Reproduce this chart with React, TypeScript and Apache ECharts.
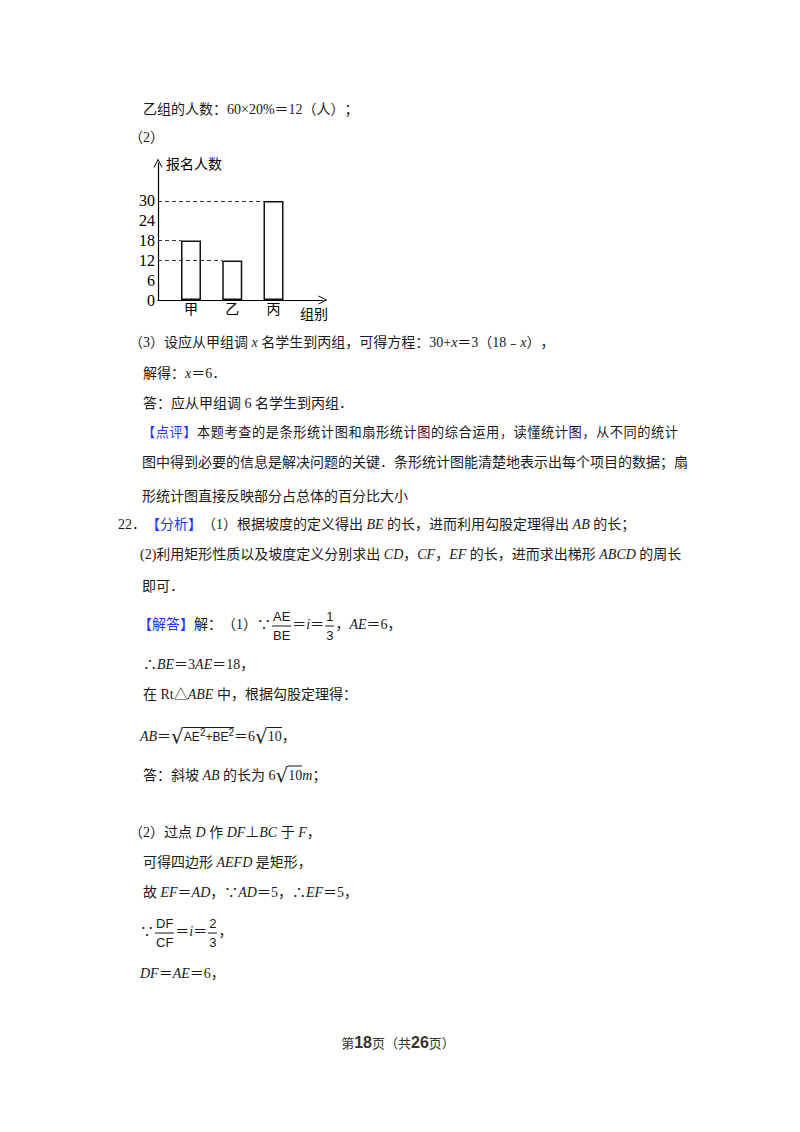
import React, { useEffect, useRef } from 'react';
import * as echarts from 'echarts';

// chart data
const groups = ['甲', '乙', '丙'];
const counts = [18, 12, 30];
const groupPositions = [1, 2, 3];
const yTicks = [0, 6, 12, 18, 24, 30];

const TEXT_FONT = '"Liberation Serif", "Noto Sans CJK SC", serif';
const BLUE = '#2233ff';
const INK = '#1a1a1a';

// thin open arrow head, tip at the top (ECharts rotates it along the axis)
const arrowHead = 'path://M5,0 L10,10 L8.9,10 L5,2.3 L1.1,10 L0,10 Z';

const EnrollmentChart: React.FC = () => {
  const chartRef = useRef<HTMLDivElement>(null);

  useEffect(() => {
    if (!chartRef.current) return;
    const chart = echarts.init(chartRef.current, undefined, { renderer: 'svg' });

    const xMin = 0.2;
    const halfBar = 0.24;

    const option: echarts.EChartsOption = {
      animation: false,
      grid: { left: 58, top: 23, width: 165, height: 137, outerBoundsMode: 'none' } as any,
      xAxis: {
        type: 'value',
        min: xMin,
        max: 4.2,
        axisLine: {
          show: true,
          symbol: ['none', arrowHead],
          symbolSize: [9, 9],
          lineStyle: { color: '#000', width: 1.2 },
        },
        axisTick: { show: false },
        splitLine: { show: false },
        axisLabel: {
          customValues: groupPositions,
          formatter: (v: number) => groups[groupPositions.indexOf(v)] ?? '',
          color: '#000',
          fontFamily: '"Noto Sans CJK SC"',
          fontSize: 14,
          margin: 1,
        } as any,
        name: '组别',
        nameLocation: 'end',
        nameGap: -23,
        nameTextStyle: {
          color: '#000',
          fontFamily: '"Noto Sans CJK SC"',
          fontSize: 14,
          verticalAlign: 'top',
          padding: [6, 0, 0, 0],
        },
      },
      yAxis: {
        type: 'value',
        min: 0,
        max: 41.5,
        interval: 6,
        axisLine: {
          show: true,
          symbol: ['none', arrowHead],
          symbolSize: [9, 9],
          lineStyle: { color: '#000', width: 1.2 },
        },
        axisTick: { show: false },
        splitLine: { show: false },
        axisLabel: {
          customValues: yTicks,
          formatter: (v: number) => (yTicks.includes(v) ? String(v) : ''),
          color: '#000',
          fontFamily: '"Liberation Serif"',
          fontSize: 16,
          margin: 3,
        } as any,
        name: '报名人数',
        nameLocation: 'end',
        nameGap: 0,
        nameTextStyle: {
          color: '#000',
          fontFamily: '"Noto Sans CJK SC"',
          fontSize: 14,
          align: 'left',
          verticalAlign: 'middle',
          padding: [0, 0, 0, 8],
        },
      },
      series: [
        {
          type: 'bar',
          barWidth: 20,
          data: groupPositions.map((p, i) => [p, counts[i]]),
          itemStyle: { color: '#fff', borderColor: '#111', borderWidth: 1.5 },
          markLine: {
            silent: true,
            symbol: 'none',
            label: { show: false },
            lineStyle: { type: [4, 3], color: '#333', width: 1 },
            data: counts.map((c, i) => [
              { coord: [xMin, c] },
              { coord: [groupPositions[i] - halfBar, c] },
            ]) as any,
          },
        },
      ],
    };

    chart.setOption(option);
    return () => chart.dispose();
  }, []);

  return <div ref={chartRef} style={{ position: 'absolute', left: 100, top: 140, width: 260, height: 200 }} />;
};

type LineProps = { x: number; y: number; w?: number; size?: number; children: React.ReactNode };

const Line: React.FC<LineProps> = ({ x, y, w, size, children }) => (
  <div
    style={{
      position: 'absolute',
      left: x,
      top: y,
      transform: 'translateY(-50%)',
      whiteSpace: 'nowrap',
      width: w,
      fontSize: size,
      textAlign: w ? 'justify' : 'left',
      textAlignLast: w ? 'justify' : 'auto',
    }}
  >
    {children}
  </div>
);

const Blue: React.FC<{ children: React.ReactNode }> = ({ children }) => <span style={{ color: BLUE }}>{children}</span>;

const I: React.FC<{ children: React.ReactNode }> = ({ children }) => <i>{children}</i>;

const Frac: React.FC<{ n: string; d: string; narrow?: boolean }> = ({ n, d, narrow }) => (
  <span
    style={{
      display: 'inline-flex',
      flexDirection: 'column',
      alignItems: 'center',
      verticalAlign: 'middle',
      margin: '0 1px',
      fontFamily: narrow ? '"Liberation Sans Narrow", "Liberation Sans"' : '"Liberation Sans"',
      fontSize: 13,
      lineHeight: '16px',
      textAlignLast: 'auto',
    }}
  >
    <span style={{ borderBottom: `1px solid ${INK}`, padding: '0 1px 1px' }}>{n}</span>
    <span style={{ paddingTop: 1 }}>{d}</span>
  </span>
);

const Sqrt: React.FC<{ children: React.ReactNode }> = ({ children }) => (
  <span style={{ whiteSpace: 'nowrap' }}>
    <span style={{ fontSize: 20, fontFamily: '"DejaVu Serif"', verticalAlign: '-2px' }}>√</span>
    <span style={{ borderTop: `1px solid ${INK}`, paddingTop: 1 }}>{children}</span>
  </span>
);

const App: React.FC = () => (
  <div
    style={
      {
        position: 'absolute',
        left: 0,
        top: 0,
        width: 800,
        height: 1132,
        background: '#fff',
        color: INK,
        fontFamily: TEXT_FONT,
        fontSize: 14,
        lineHeight: '20px',
        overflow: 'hidden',
        textSpacingTrim: 'space-all',
      } as React.CSSProperties
    }
  >
    <Line x={143} y={110}>乙组的人数：60×20%＝12（人）；</Line>
    <Line x={129} y={138}>（2）</Line>

    <EnrollmentChart />

    <Line x={129} y={343}>
      （3）设应从甲组调 <I>x</I> 名学生到丙组，可得方程：30+<I>x</I>＝3（18﹣<I>x</I>），
    </Line>
    <Line x={143} y={374}>
      解得：<I>x</I>＝6．
    </Line>
    <Line x={143} y={404}>答：应从甲组调 6 名学生到丙组．</Line>
    <Line x={142} y={433} w={536} size={13.2}>
      <Blue>【点评】</Blue>本题考查的是条形统计图和扇形统计图的综合运用，读懂统计图，从不同的统计
    </Line>
    <Line x={142} y={463} w={536}>
      图中得到必要的信息是解决问题的关键．条形统计图能清楚地表示出每个项目的数据；扇
    </Line>
    <Line x={142} y={497}>形统计图直接反映部分占总体的百分比大小</Line>

    <Line x={118} y={525}>
      22．<Blue>【分析】</Blue>（1）根据坡度的定义得出 <I>BE</I> 的长，进而利用勾股定理得出 <I>AB</I> 的长；
    </Line>
    <Line x={140} y={555} w={538}>
      (2)利用矩形性质以及坡度定义分别求出 <I>CD</I>，<I>CF</I>，<I>EF</I> 的长，进而求出梯形 <I>ABCD</I> 的周长
    </Line>
    <Line x={142} y={587}>即可．</Line>

    <Line x={138} y={626}>
      <Blue>【解答】</Blue>解：（1）∵<Frac n="AE" d="BE" narrow />＝<I>i</I>＝<Frac n="1" d="3" />，<I>AE</I>＝6，
    </Line>
    <Line x={143} y={665}>
      ∴<I>BE</I>＝3<I>AE</I>＝18，
    </Line>
    <Line x={143} y={695}>
      在 Rt△<I>ABE</I> 中，根据勾股定理得：
    </Line>
    <Line x={140} y={735}>
      <I>AB</I>＝
      <Sqrt>
        <span style={{ fontFamily: '"Liberation Sans Narrow", "Liberation Sans"', fontSize: 12 }}>
          AE<sup style={{ fontSize: 10 }}>2</sup>+BE<sup style={{ fontSize: 10 }}>2</sup>
        </span>
      </Sqrt>
      ＝6<Sqrt>10</Sqrt>，
    </Line>
    <Line x={143} y={775}>
      答：斜坡 <I>AB</I> 的长为 6<Sqrt>10</Sqrt>
      <I>m</I>；
    </Line>

    <Line x={129} y={833}>
      （2）过点 <I>D</I> 作 <I>DF</I>⊥<I>BC</I> 于 <I>F</I>，
    </Line>
    <Line x={143} y={863}>
      可得四边形 <I>AEFD</I> 是矩形，
    </Line>
    <Line x={143} y={893}>
      故 <I>EF</I>＝<I>AD</I>，∵<I>AD</I>＝5，∴<I>EF</I>＝5，
    </Line>
    <Line x={140} y={933}>
      ∵<Frac n="DF" d="CF" narrow />＝<I>i</I>＝<Frac n="2" d="3" />，
    </Line>
    <Line x={140} y={974}>
      <I>DF</I>＝<I>AE</I>＝6，
    </Line>

    <div
      style={{
        position: 'absolute',
        left: 0,
        top: 1043,
        width: 796,
        transform: 'translateY(-50%)',
        textAlign: 'center',
        fontFamily: '"Noto Sans CJK SC", sans-serif',
        fontSize: 13,
        color: '#333',
      }}
    >
      第<b style={{ fontFamily: '"Liberation Sans"', fontSize: 16 }}>18</b>页（共
      <b style={{ fontFamily: '"Liberation Sans"', fontSize: 16 }}>26</b>页）
    </div>
  </div>
);

export default App;
